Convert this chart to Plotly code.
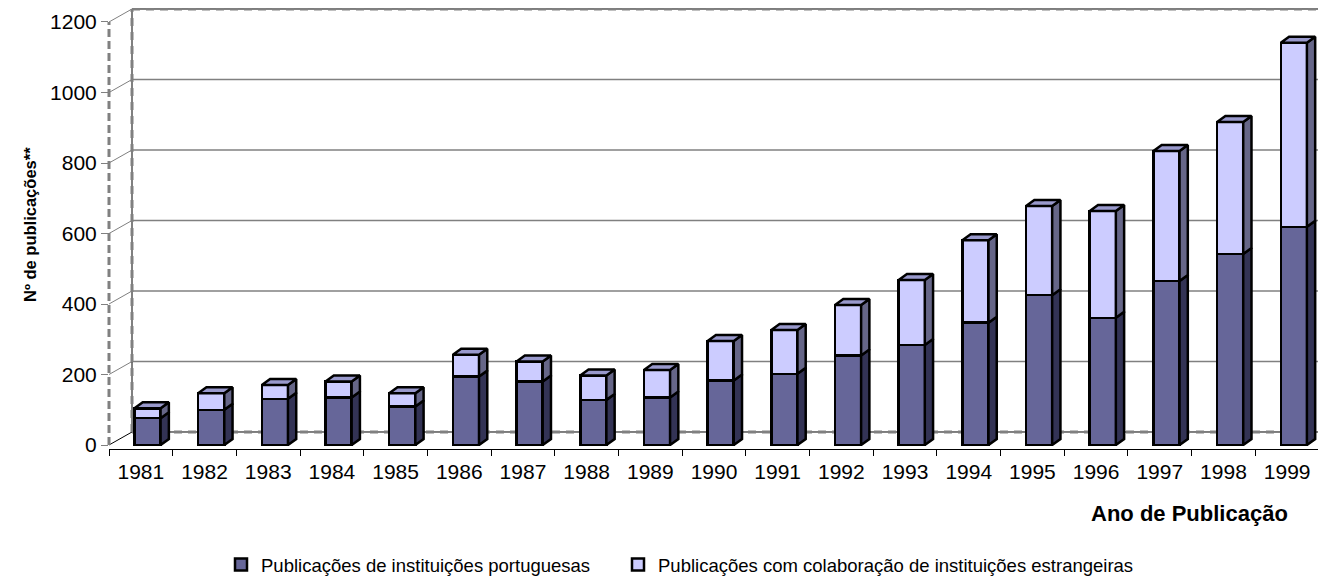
import plotly.graph_objects as go

# ---- data ----
years = ["1981", "1982", "1983", "1984", "1985", "1986", "1987", "1988", "1989", "1990",
         "1991", "1992", "1993", "1994", "1995", "1996", "1997", "1998", "1999"]
portuguesas = [76, 100, 131, 135, 109, 194, 180, 128, 135, 183,
               202, 254, 284, 347, 425, 361, 465, 542, 619]
colaboracao = [28, 47, 39, 45, 38, 62, 57, 69, 78, 112,
               124, 143, 184, 234, 253, 303, 369, 374, 522]
y_ticks = [0, 200, 400, 600, 800, 1000, 1200]

name_pt = "Publicações de instituições portuguesas"
name_col = "Publicações com colaboração de instituições estrangeiras"

# ---- style ----
FONT = "Liberation Sans"
C_PT, C_PT_SIDE = "#666699", "#333355"
C_COL, C_COL_SIDE, C_TOP = "#CCCCFF", "#666688", "#9999CC"
OUTLINE = dict(color="black", width=2.5)
BAR_W, BAR_OFF = 0.41, -0.10        # bar width / left offset (category units)
DX, DY = 0.13, 17                   # 3-D depth of each bar (x units, y units)
BACK_DX = (132 - 109) / 1210        # wall depth in paper units
BACK_DY = 36.9                      # wall depth in y units
GRID = "#808080"
PLOT_H = 441                        # plot height in px


def py(s):
    """screen-y (page pixels) -> paper y"""
    return (449 - s) / PLOT_H


def px(s):
    """screen-x (page pixels) -> paper x"""
    return (s - 109) / 1210


x = list(range(len(years)))
fig = go.Figure()
fig.add_bar(x=x, y=portuguesas, name=name_pt, width=BAR_W, offset=BAR_OFF,
            marker=dict(color=C_PT, line=OUTLINE), hoverinfo="skip",
            legendwidth=352)
fig.add_bar(x=x, y=colaboracao, name=name_col, width=BAR_W, offset=BAR_OFF,
            marker=dict(color=C_COL, line=OUTLINE), hoverinfo="skip",
            legendwidth=500)


def side_faces(bases, tops):
    xs, ys = [], []
    for i, (b, t) in enumerate(zip(bases, tops)):
        xr = i + BAR_OFF + BAR_W
        xs += [xr, xr + DX, xr + DX, xr, xr, None]
        ys += [b, b + DY, t + DY, t, b, None]
    return xs, ys


def top_faces(tops):
    xs, ys = [], []
    for i, t in enumerate(tops):
        xl = i + BAR_OFF
        xr = xl + BAR_W
        xs += [xl, xl + DX, xr + DX, xr, xl, None]
        ys += [t, t + DY, t + DY, t, t, None]
    return xs, ys


totals = [p + c for p, c in zip(portuguesas, colaboracao)]
zeros = [0] * len(years)
for (xs, ys), col in [(side_faces(zeros, portuguesas), C_PT_SIDE),
                      (side_faces(portuguesas, totals), C_COL_SIDE),
                      (top_faces(totals), C_TOP)]:
    fig.add_scatter(x=xs, y=ys, mode="lines", fill="toself", fillcolor=col,
                    line=dict(color="black", width=2.5), showlegend=False,
                    hoverinfo="skip")

shapes = []
for v in y_ticks:
    if v in (0, 1200):
        shapes.append(dict(type="line", xref="paper", yref="y", x0=BACK_DX, x1=1.006,
                           y0=v + BACK_DY, y1=v + BACK_DY, layer="below",
                           line=dict(color="black", width=1)))
        shapes.append(dict(type="line", xref="paper", yref="y", x0=BACK_DX, x1=1.006,
                           y0=v + BACK_DY, y1=v + BACK_DY, layer="below",
                           line=dict(color=GRID, width=3, dash="8px,6px")))
    else:
        shapes.append(dict(type="line", xref="paper", yref="y", x0=BACK_DX, x1=1.006,
                           y0=v + BACK_DY, y1=v + BACK_DY, layer="below",
                           line=dict(color=GRID, width=1.5)))
    shapes.append(dict(type="line", xref="paper", yref="y", x0=0, x1=BACK_DX,
                       y0=v, y1=v + BACK_DY, layer="below",
                       line=dict(color="black" if v == 0 else GRID, width=1)))
# back-left vertical edge
shapes.append(dict(type="line", xref="paper", yref="y", x0=BACK_DX, x1=BACK_DX,
                   y0=BACK_DY, y1=1200 + BACK_DY, layer="below",
                   line=dict(color="black", width=1)))
shapes.append(dict(type="line", xref="paper", yref="y", x0=BACK_DX, x1=BACK_DX,
                   y0=BACK_DY, y1=1200 + BACK_DY, layer="below",
                   line=dict(color=GRID, width=3, dash="8px,6px")))
# front-left vertical edge
shapes.append(dict(type="line", xref="paper", yref="y", x0=0, x1=0,
                   y0=0, y1=1200, layer="below",
                   line=dict(color=GRID, width=3, dash="8px,4px")))
# right floor diagonal
shapes.append(dict(type="line", xref="paper", yref="paper", x0=1, x1=1.0058,
                   y0=0, y1=5 / PLOT_H, line=dict(color="black", width=1)))

# The page body adds an 8px margin, so the figure is 8px smaller than the window.
fig.update_layout(
    width=1318, height=572,
    margin=dict(l=101, r=7, t=0, b=131, autoexpand=False),
    paper_bgcolor="white", plot_bgcolor="white",
    font=dict(family=FONT, color="black", size=21),
    barmode="stack",
    showlegend=True,
    legend=dict(orientation="h", x=px(221), xanchor="left",
                y=py(546), yanchor="top",
                font=dict(size=18.5, family=FONT), traceorder="normal"),
    xaxis=dict(range=[-0.5, 18.5], tickmode="array", tickvals=x, ticktext=years,
               ticks="outside", ticklen=6, tickcolor="rgba(0,0,0,0)",
               minor=dict(tickmode="array", tickvals=[i - 0.5 for i in range(len(years) + 1)],
                          ticks="outside", ticklen=6, tickcolor="black", tickwidth=1),
               showline=True, linecolor="black", linewidth=1, ticklabelstandoff=-2,
               showgrid=False, zeroline=False, tickfont=dict(size=21)),
    yaxis=dict(range=[-11.35, 1239.7], tickmode="array", tickvals=y_ticks,
               ticks="outside", ticklen=7, tickcolor=GRID, showgrid=False,
               ticklabelstandoff=0,
               zeroline=False, showline=False, tickfont=dict(size=21)),
    shapes=shapes,
    annotations=[
        dict(text="<b>Nº de publicações**</b>", xref="paper", yref="paper",
             x=px(30), y=py(225), textangle=-90,
             showarrow=False, xanchor="center", yanchor="middle",
             font=dict(size=16.5, family=FONT)),
        dict(text="<b>Ano de Publicação</b>", xref="paper", yref="paper",
             x=px(1189), y=py(513),
             showarrow=False, xanchor="center", yanchor="middle",
             font=dict(size=22, family=FONT)),
    ],
)

fig.write_html("out.html")
